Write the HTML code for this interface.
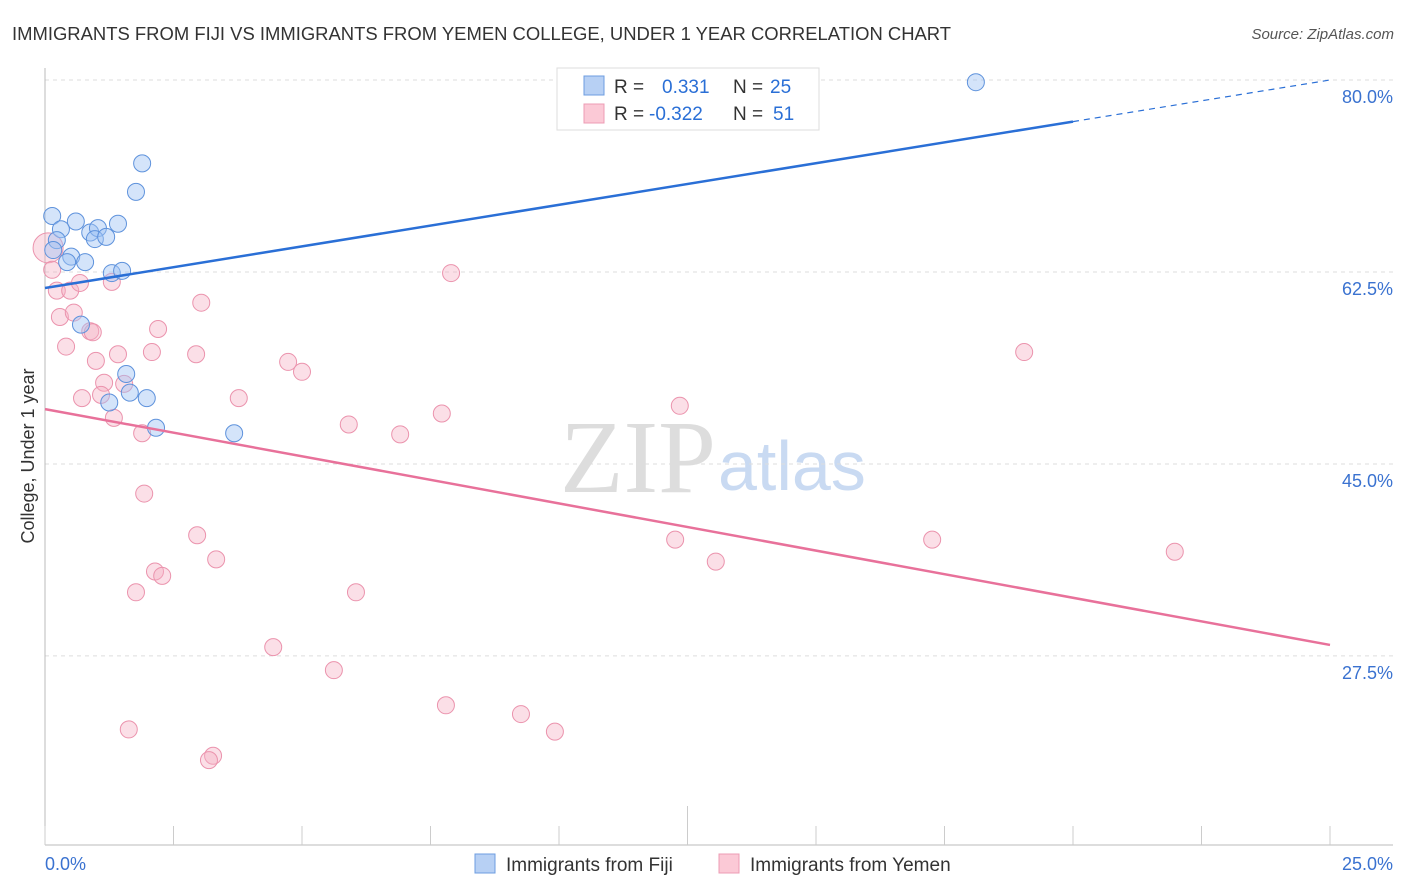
<!DOCTYPE html>
<html><head><meta charset="utf-8"><style>
body{margin:0;background:#fff;font-family:"Liberation Sans",sans-serif;}
svg{display:block}
</style></head><body>
<svg id="chart" width="1406" height="892">
<text x="12" y="40" font-size="18.45" fill="#333">IMMIGRANTS FROM FIJI VS IMMIGRANTS FROM YEMEN COLLEGE, UNDER 1 YEAR CORRELATION CHART</text>
<text x="1394" y="39" font-size="15" fill="#555" font-style="italic" text-anchor="end">Source: ZipAtlas.com</text>
<text x="716" y="492" font-size="104" fill="#ddd" text-anchor="end" font-family="Liberation Serif,serif">ZIP</text>
<text x="718" y="490" font-size="70" fill="#c9daf2">atlas</text>
<text transform="translate(34,456) rotate(-90)" font-size="18" fill="#333" text-anchor="middle">College, Under 1 year</text>
<g id="grid"></g><g id="marks"></g>
<g>
<rect x="557" y="68" width="262" height="62" fill="#fff" stroke="#ddd"/>
<rect x="584" y="76" width="20" height="19" fill="#b7d0f4" stroke="#6c9de0"/>
<rect x="584" y="104" width="20" height="19" fill="#fbc9d6" stroke="#ec9cb4"/>
<text x="614" y="93" font-size="19" fill="#333">R =</text>
<text x="662" y="93" font-size="19" fill="#2a6fd6">0.331</text>
<text x="733" y="93" font-size="19" fill="#333">N =</text>
<text x="770" y="93" font-size="19" fill="#2a6fd6">25</text>
<text x="614" y="120" font-size="19" fill="#333">R =</text>
<text x="649" y="120" font-size="19" fill="#2a6fd6">-0.322</text>
<text x="733" y="120" font-size="19" fill="#333">N =</text>
<text x="773" y="120" font-size="19" fill="#2a6fd6">51</text>
</g>
<g>
<rect x="475" y="854" width="20" height="19" fill="#b7d0f4" stroke="#6c9de0"/>
<text x="506" y="871" font-size="19" fill="#333">Immigrants from Fiji</text>
<rect x="719" y="854" width="20" height="19" fill="#fbc9d6" stroke="#ec9cb4"/>
<text x="750" y="871" font-size="19" fill="#333">Immigrants from Yemen</text>
</g>
</svg>
<script>
const fijiX=[18.11,1.89,1.77,0.14,0.60,0.31,1.42,0.88,1.03,0.97,1.19,0.23,0.16,0.51,0.43,0.78,1.30,1.50,0.70,1.58,1.65,1.98,1.25,2.16,3.68];
const fijiY=[79.8,72.4,69.8,67.6,67.1,66.4,66.9,66.1,66.5,65.5,65.7,65.4,64.5,63.9,63.4,63.4,62.4,62.6,57.7,53.2,51.5,51.0,50.6,48.3,47.8];
const yemenX=[0.06,0.14,0.23,0.49,0.68,1.30,7.90,3.04,0.29,0.56,0.88,0.93,2.20,0.41,0.99,1.42,2.08,2.94,4.73,5.00,1.15,1.54,1.09,0.72,3.77,1.34,1.89,5.91,6.91,7.72,12.35,19.05,1.93,2.96,12.26,17.26,21.98,3.33,13.05,2.14,2.28,1.77,6.05,4.44,5.62,7.80,9.26,1.63,9.92,3.27,3.19];
const yemenY=[64.7,62.7,60.8,60.8,61.5,61.6,62.4,59.7,58.4,58.8,57.1,57.0,57.3,55.7,54.4,55.0,55.2,55.0,54.3,53.4,52.4,52.3,51.3,51.0,51.0,49.2,47.8,48.6,47.7,49.6,50.3,55.2,42.3,38.5,38.1,38.1,37.0,36.3,36.1,35.2,34.8,33.3,33.3,28.3,26.2,23.0,22.2,20.8,20.6,18.4,18.0];
const yTicks=[80,62.5,45,27.5];
const yTickLabels=["80.0%","62.5%","45.0%","27.5%"];
const xTicks=[0,2.5,5,7.5,10,12.5,15,17.5,20,22.5,25];
const fijiTrend=[61.04,80];
const yemenTrend=[50.0,28.5];
const NS="http://www.w3.org/2000/svg";
const X=v=>45+v*51.4, Y=v=>80+(80-v)*10.97;
function mk(p,t,a){const e=document.createElementNS(NS,t);for(const k in a)e.setAttribute(k,a[k]);p.appendChild(e);return e;}
const grid=document.getElementById('grid'), marks=document.getElementById('marks');
yTicks.forEach((v,i)=>{
 const l=mk(grid,'line',{x1:45,x2:1393,y1:Y(v),y2:Y(v),stroke:'#ddd','stroke-dasharray':'4,4'});
 
 
 const t=mk(grid,'text',{x:1393,y:Y(v)+23,'font-size':18,fill:'#3a72d0','text-anchor':'end'});
 t.textContent=yTickLabels[i];
 
 
});
const ax=mk(grid,'line',{x1:45,x2:45,y1:68,y2:845,stroke:'#bbb'});


const bx=mk(grid,'line',{x1:45,x2:1393,y1:845,y2:845,stroke:'#bbb'});


xTicks.forEach(v=>{
 const t=mk(grid,'line',{x1:X(v),x2:X(v),y1:v==12.5?806:826,y2:845,stroke:'#ccc'});
 
 
});
const xl0=mk(grid,'text',{x:45,y:870,'font-size':18,fill:'#3a72d0'});xl0.textContent=xTicks[0].toFixed(1)+'%';


const xl1=mk(grid,'text',{x:1393,y:870,'font-size':18,fill:'#3a72d0','text-anchor':'end'});xl1.textContent=xTicks[xTicks.length-1].toFixed(1)+'%';


yemenX.forEach((x,i)=>{
 const c=mk(marks,'circle',{cx:X(x),cy:Y(yemenY[i]),r:i==0?15:8.5,fill:'rgba(246,175,196,0.4)',stroke:'#eb93ad','stroke-width':1});
 
 
});
fijiX.forEach((x,i)=>{
 const c=mk(marks,'circle',{cx:X(x),cy:Y(fijiY[i]),r:8.5,fill:'rgba(160,195,244,0.45)',stroke:'#5e92dc','stroke-width':1});
 
 
});
const f0=fijiTrend[0],f1=fijiTrend[1],fy=v=>f0+(f1-f0)*v/25;
const bl=mk(marks,'line',{x1:X(0),y1:Y(f0),x2:X(20),y2:Y(fy(20)),stroke:'#2a6fd6','stroke-width':2.5});


const bd=mk(marks,'line',{x1:X(20),y1:Y(fy(20)),x2:X(25),y2:Y(f1),stroke:'#2a6fd6','stroke-width':1.2,'stroke-dasharray':'6,5'});


const pl=mk(marks,'line',{x1:X(0),y1:Y(yemenTrend[0]),x2:X(25),y2:Y(yemenTrend[1]),stroke:'#e8719a','stroke-width':2.5});


</script>
</body></html>
